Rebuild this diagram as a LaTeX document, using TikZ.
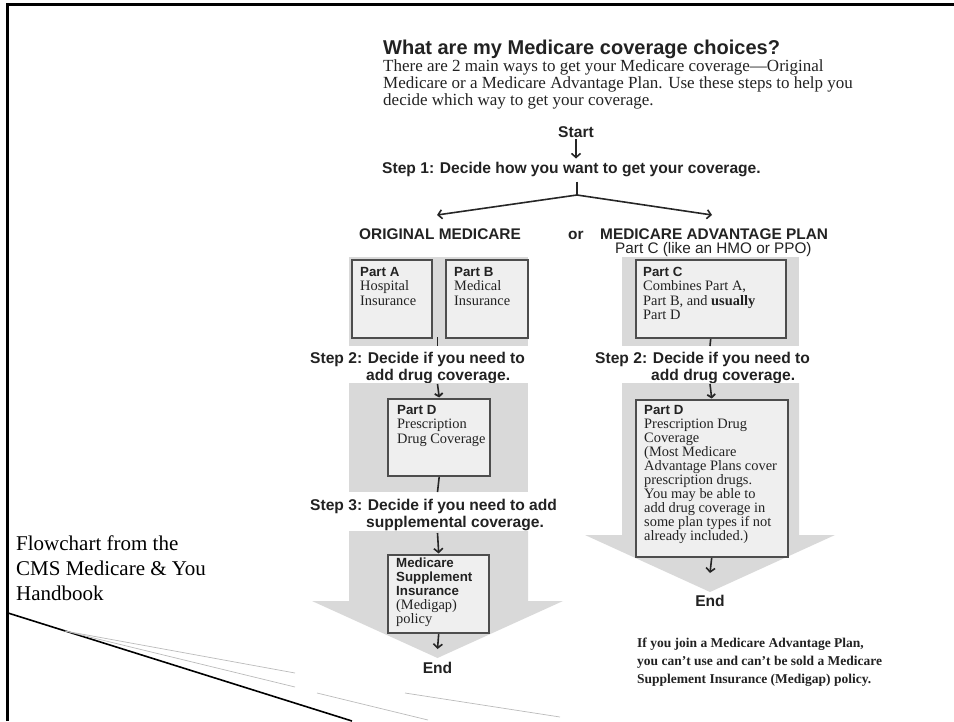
\documentclass[tikz,border=0pt]{standalone}
\usepackage{fontspec}
\setmainfont{Liberation Serif}
\setsansfont{Liberation Sans}
\usetikzlibrary{arrows.meta}
\definecolor{bgc}{HTML}{D9D9D9}
\definecolor{boxfill}{HTML}{EFEFEF}
\definecolor{boxline}{HTML}{4D4D4D}
\definecolor{thinln}{HTML}{BBBBBB}
\definecolor{txt}{HTML}{222222}
\begin{document}
\begin{tikzpicture}[x=1pt,y=-1pt,
  lbl/.style={inner sep=0pt, anchor=base west, text=txt},
  clbl/.style={inner sep=0pt, anchor=base, text=txt},
  stepfont/.style={font=\sffamily\bfseries\fontsize{15.6}{17}\selectfont},
  headfont/.style={font=\sffamily\bfseries\fontsize{15.4}{17}\selectfont},
  boxhead/.style={lbl, font=\sffamily\bfseries\fontsize{13.3}{14}\selectfont},
  boxtxt/.style={lbl, font=\fontsize{14.4}{14.5}\selectfont},
  gbox/.style={draw=boxline, line width=2.4pt, fill=boxfill, inner sep=0pt, anchor=north west},
  conn/.style={line width=1.6pt, draw=black!85},
  arr/.style={conn, -{Straight Barb[length=4pt,width=9pt,line width=1.6pt]}},
  sarr/.style={conn, -{Straight Barb[length=3pt,width=8pt,line width=1.8pt]}},
  thin/.style={draw=thinln, line width=0.7pt}
]
\useasboundingbox (0,0) rectangle (954,721);

% frame
\draw[line width=3pt] (7.5,721) -- (7.5,4.5) -- (954,4.5);

% title and intro
\node[lbl, font=\sffamily\bfseries\fontsize{20}{24}\selectfont] (title) at (383,54) {What are my Medicare coverage choices?};
\node[lbl, font=\fontsize{17}{17}\selectfont] (intro1) at (383,71) {There are 2 main ways to get your Medicare coverage—Original};
\node[lbl, font=\fontsize{17}{17}\selectfont] (intro2) at (383,88) {Medicare or a Medicare Advantage Plan. Use these steps to help you};
\node[lbl, font=\fontsize{17}{17}\selectfont] (intro3) at (383,105) {decide which way to get your coverage.};

% start and step 1
\node[clbl, stepfont] (start) at (576,137) {Start};
\node[lbl, stepfont] (step1) at (382,173) {Step 1: Decide how you want to get your coverage.};
\draw[arr, shorten <=2pt, shorten >=3pt] (start.south) -- (start.south |- step1.north);
\coordinate (apex) at (577,195);
\coordinate (tipL) at (437,215);
\coordinate (tipR) at (712,215);
\draw[conn, shorten <=5pt] (step1.south -| apex) -- (apex);
\draw[arr] (apex) -- (tipL);
\draw[arr] (apex) -- (tipR);

% headers
\node[lbl, headfont] (orig) at (359,239) {ORIGINAL MEDICARE};
\node[lbl, headfont] (or) at (568,239) {or};
\node[lbl, headfont] (adv) at (600,239) {MEDICARE ADVANTAGE PLAN};
\node[lbl, font=\sffamily\fontsize{15.3}{17}\selectfont] (advsub) at (615,253) {Part C (like an HMO or PPO)};

% ---------- left column ----------
\fill[bgc] (349,257) rectangle (528,346);
\node[gbox, minimum width=80pt, minimum height=78pt] (pa) at (351,258.5) {};
\node[gbox, minimum width=82pt, minimum height=78pt] (pb) at (444.5,258.5) {};
\node[boxhead] (pa1) at (360,276) {Part A};
\node[boxtxt] (pa2) at (360,290.5) {Hospital};
\node[boxtxt] (pa3) at (360,305) {Insurance};
\node[boxhead] (pb1) at (454,276) {Part B};
\node[boxtxt] (pb2) at (454,290.5) {Medical};
\node[boxtxt] (pb3) at (454,305) {Insurance};
\coordinate (abgap) at (437.5,337);
\coordinate (abtick) at (437.5,346);
\draw[conn] (abgap) -- (abtick);

\node[lbl, stepfont] (s2l) at (310,363) {Step 2: Decide if you need to};
\node[lbl, stepfont] (s2lb) at (366,380) {add drug coverage.};

\fill[bgc] (349,383) rectangle (528,492);
\node[gbox, minimum width=102pt, minimum height=77pt] (pdl) at (387,397.5) {};
\node[boxhead] (pdl1) at (397,414) {Part D};
\node[boxtxt] (pdl2) at (397,428.5) {Prescription};
\node[boxtxt] (pdl3) at (397,443) {Drug Coverage};
\coordinate (s2lend) at (437.5,384);
\draw[sarr] (s2lend) -- (pdl.north);
\coordinate (gl2b) at (437.5,492);
\draw[conn] (pdl.south) -- (gl2b);

\node[lbl, stepfont] (s3l) at (310,510) {Step 3: Decide if you need to add};
\node[lbl, stepfont] (s3lb) at (366,527) {supplemental coverage.};

\fill[bgc] (349,531) -- (528,531) -- (528,601) -- (563,601) -- (437.5,658) -- (312,601) -- (349,601) -- cycle;
\node[gbox, minimum width=101pt, minimum height=78pt] (mg) at (387,553.5) {};
\node[boxhead] (mg1) at (396,567) {Medicare};
\node[boxhead] (mg2) at (396,581) {Supplement};
\node[boxhead] (mg3) at (396,595) {Insurance};
\node[boxtxt] (mg4) at (396,609.5) {(Medigap)};
\node[boxtxt] (mg5) at (396,623.5) {policy};
\coordinate (s3lend) at (437.5,533);
\draw[arr] (s3lend) -- (mg.north);
\node[clbl, stepfont] (endl) at (437.5,673) {End};
\coordinate (endltip) at (437.5,649);
\draw[arr] (mg.south) -- (endltip);

% ---------- right column ----------
\fill[bgc] (622,257) rectangle (799,346);
\node[gbox, minimum width=150pt, minimum height=78pt] (pc) at (634.5,258.5) {};
\node[boxhead] (pc1) at (643,276) {Part C};
\node[boxtxt] (pc2) at (643,290.5) {Combines Part A,};
\node[boxtxt] (pc3) at (643,305) {Part B, and \textbf{usually}};
\node[boxtxt] (pc4) at (643,319.5) {Part D};
\coordinate (ctick) at (710,346);
\draw[conn] (pc.south) -- (ctick);

\node[lbl, stepfont] (s2r) at (595,363) {Step 2: Decide if you need to};
\node[lbl, stepfont] (s2rb) at (651,380) {add drug coverage.};

\fill[bgc] (622,383) -- (799,383) -- (799,535) -- (835,535) -- (710,592) -- (585,535) -- (622,535) -- cycle;
\node[gbox, minimum width=152pt, minimum height=157pt] (pdr) at (634.5,398.5) {};
\node[boxhead] (pdr1) at (644,414) {Part D};
\node[boxtxt] (pdr2) at (644,428) {Prescription Drug};
\node[boxtxt] (pdr3) at (644,442) {Coverage};
\node[boxtxt] (pdr4) at (644,456) {(Most Medicare};
\node[boxtxt] (pdr5) at (644,470) {Advantage Plans cover};
\node[boxtxt] (pdr6) at (644,484) {prescription drugs.};
\node[boxtxt] (pdr7) at (644,498) {You may be able to};
\node[boxtxt] (pdr8) at (644,512) {add drug coverage in};
\node[boxtxt] (pdr9) at (644,526) {some plan types if not};
\node[boxtxt] (pdr10) at (644,540) {already included.)};
\coordinate (s2rend) at (710,384);
\draw[sarr] (s2rend) -- (pdr.north);
\node[clbl, stepfont] (endr) at (710,606) {End};
\coordinate (endrtip) at (710,573);
\draw[arr] (pdr.south) -- (endrtip);

% note
\node[lbl, font=\bfseries\fontsize{13.5}{18}\selectfont] (note1) at (637,647) {If you join a Medicare Advantage Plan,};
\node[lbl, font=\bfseries\fontsize{13.5}{18}\selectfont] (note2) at (637,665) {you can’t use and can’t be sold a Medicare};
\node[lbl, font=\bfseries\fontsize{13.5}{18}\selectfont] (note3) at (637,683) {Supplement Insurance (Medigap) policy.};

% left caption
\node[lbl, font=\fontsize{21}{25}\selectfont, text=black] (cap1) at (16,550) {Flowchart from the};
\node[lbl, font=\fontsize{21}{25}\selectfont, text=black] (cap2) at (16,575) {CMS Medicare \& You};
\node[lbl, font=\fontsize{21}{25}\selectfont, text=black] (cap3) at (16,600) {Handbook};

% decorative lines
\draw[line width=1.6pt] (8,613) -- (352,721);
\draw[thin] (65,631) -- (295,673);
\draw[thin] (65,631) -- (295,687);
\draw[thin] (317,693) -- (428,720);
\draw[thin] (405,693) -- (560,717);
\end{tikzpicture}
\end{document}
